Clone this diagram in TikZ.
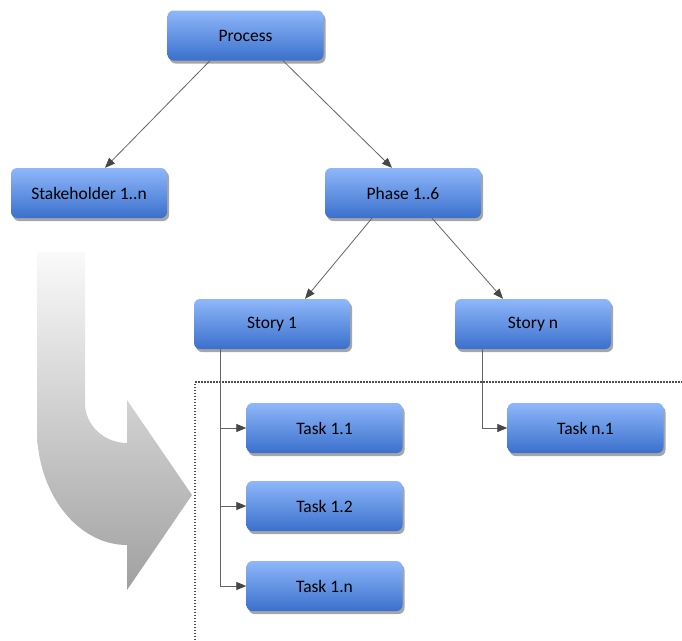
\documentclass[tikz,border=0pt]{standalone}
\usepackage{fontspec}
\setmainfont{Carlito}
\usetikzlibrary{shadows,arrows.meta,calc}
\definecolor{boxtop}{RGB}{143,183,250}
\definecolor{boxbot}{RGB}{58,112,204}
\definecolor{linec}{RGB}{100,100,100}
\definecolor{tipc}{RGB}{70,70,70}
\definecolor{arrtop}{RGB}{250,250,250}
\definecolor{arrbot}{RGB}{160,160,160}
\begin{document}
\begin{tikzpicture}[x=1pt,y=-1pt,
  box/.style={rectangle, rounded corners=6pt, minimum width=156pt, minimum height=50pt,
    inner sep=0pt, top color=boxtop, bottom color=boxbot, draw=none,
    drop shadow={shadow xshift=2pt, shadow yshift=-3pt, opacity=0.35, fill=black},
    font=\fontsize{17.5}{20}\selectfont, text=black},
  conn/.style={draw=linec, line width=0.8pt, -{Triangle[length=10pt,width=8pt,fill=tipc,color=tipc]}},
  dots/.style={draw=gray!60!black, line width=2pt, dash pattern=on 1.5pt off 1.5pt}]
\useasboundingbox (0,0) rectangle (682,640);
% big grey bent arrow
\shade[top color=arrtop, bottom color=arrbot]
  (37,252) -- (85,252) -- (85,403)
  .. controls (85,425) and (104,443) .. (127,443)
  -- (127,400) -- (192,495) -- (127,590) -- (127,545)
  .. controls (77.5,545) and (37,493) .. (37,430) -- cycle;
% dotted frame
\draw[dots] (195,640) -- (195,382) -- (682,382);
% nodes
\node[box] (proc) at (245.5,35.5) {Process};
\node[box] (stake) at (89,193) {Stakeholder 1..n};
\node[box] (phase) at (403,193) {Phase 1..6};
\node[box] (s1) at (272,324) {Story 1};
\node[box] (sn) at (533,324) {Story n};
\node[box] (t11) at (324.5,428) {Task 1.1};
\node[box] (t12) at (324.5,506) {Task 1.2};
\node[box] (t1n) at (324.5,586) {Task 1.n};
\node[box] (tn1) at (585.5,428) {Task n.1};
% connectors
\draw[conn] ([xshift=-35.5pt]proc.south) -- ([xshift=16pt]stake.north);
\draw[conn] ([xshift=37.5pt]proc.south) -- ([xshift=-11pt]phase.north);
\draw[conn] ([xshift=-31pt]phase.south) -- ([xshift=33pt]s1.north);
\draw[conn] ([xshift=29pt]phase.south) -- ([xshift=-30pt]sn.north);
\draw[conn] ([xshift=-52pt]s1.south) |- (t11);
\draw[conn] ([xshift=-52pt]s1.south) |- (t12);
\draw[conn] ([xshift=-52pt]s1.south) |- (t1n);
\draw[conn] ([xshift=-51pt]sn.south) |- (tn1);
\end{tikzpicture}
\end{document}
